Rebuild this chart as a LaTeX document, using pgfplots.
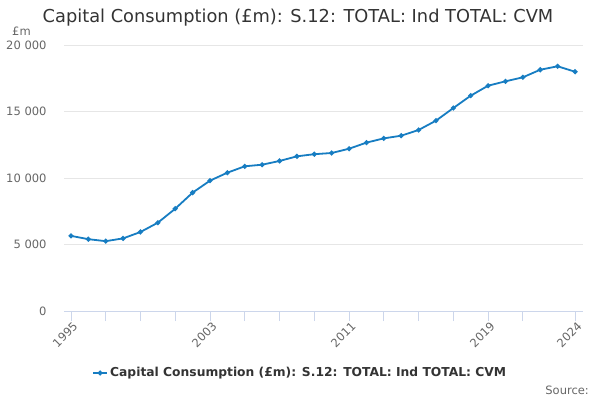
\documentclass[border=0pt]{standalone}
\usepackage{pgfplots}
\pgfplotsset{compat=1.18}
\usepackage{fontspec}
\setmainfont{DejaVu Sans}
\definecolor{linec}{HTML}{177DC2}
\definecolor{gridc}{HTML}{E6E6E6}
\definecolor{axc}{HTML}{CCD6EB}
\definecolor{labc}{HTML}{666666}
\definecolor{titc}{HTML}{333333}
\begin{document}
\begin{tikzpicture}
\useasboundingbox (-64bp,-89bp) rectangle (536bp,311bp);
\begin{axis}[
  scale only axis,
  width=519bp, height=266bp,
  xmin=1994.6, xmax=2024.46,
  ymin=0, ymax=20000,
  axis y line*=left, y axis line style={draw=none},
  axis x line*=bottom, x axis line style={draw=axc, line width=0.8bp},
  ytick={0,5000,10000,15000,20000},
  ymajorgrids, grid style={gridc, line width=0.8bp},
  ytick style={draw=none},
  xtick={1995,2003,2011,2019,2024},
  minor xtick={1997,1999,2001,2005,2007,2009,2013,2015,2017,2021},
  xtick style={draw=axc, line width=0.8bp},
  minor x tick style={draw=axc, line width=0.8bp},
  tick align=outside, major tick length=10bp, minor tick length=10bp,
  /pgf/number format/assume math mode=true,
  /pgf/number format/1000 sep={\ },
  scaled y ticks=false,
  xticklabel={\pgfmathprintnumber[1000 sep=]{\tick}},
  yticklabel style={font=\fontsize{11.5bp}{13bp}\selectfont, text=labc, xshift=-4bp},
  xticklabel style={font=\fontsize{11.5bp}{13bp}\selectfont, text=labc, rotate=45, anchor=north east, inner sep=1bp, xshift=2bp},
  legend style={at={(axis description cs:0.455,-0.233)}, anchor=center, draw=none, fill=none,
    font=\fontsize{12.3bp}{15bp}\selectfont\bfseries, text=titc},
  legend image code/.code={\draw[#1, line width=2bp] (0bp,0bp) -- (14bp,0bp); \fill[linec] (7bp,0bp) circle (1.5bp);},
  clip=false,
]
\addplot[color=linec, line width=1.8bp, mark=*, mark size=1.5bp, mark options={fill=linec, draw=linec}]
coordinates {
(1995,5650) (1996,5400) (1997,5250) (1998,5460) (1999,5940) (2000,6640)
(2001,7690) (2002,8900) (2003,9800) (2004,10400) (2005,10880) (2006,11000)
(2007,11280) (2008,11630) (2009,11790) (2010,11880) (2011,12200) (2012,12660)
(2013,12980) (2014,13180) (2015,13610) (2016,14310) (2017,15260) (2018,16190)
(2019,16940) (2020,17270) (2021,17570) (2022,18140) (2023,18400) (2024,17990)
};
\addlegendentry{Capital Consumption (£m): S.12: TOTAL: Ind TOTAL: CVM}
\end{axis}
\node[font=\fontsize{17.8bp}{21bp}\selectfont, text=titc] at (234bp,293bp) {Capital Consumption (£m): S.12: TOTAL: Ind TOTAL: CVM};
\node[font=\fontsize{11.5bp}{13bp}\selectfont, text=labc, anchor=west, inner sep=0pt] at (-52bp,280bp) {£m};
\node[font=\fontsize{11.5bp}{13bp}\selectfont, text=labc, anchor=east, inner sep=0pt] at (525bp,-79bp) {Source:};
\end{tikzpicture}
\end{document}
